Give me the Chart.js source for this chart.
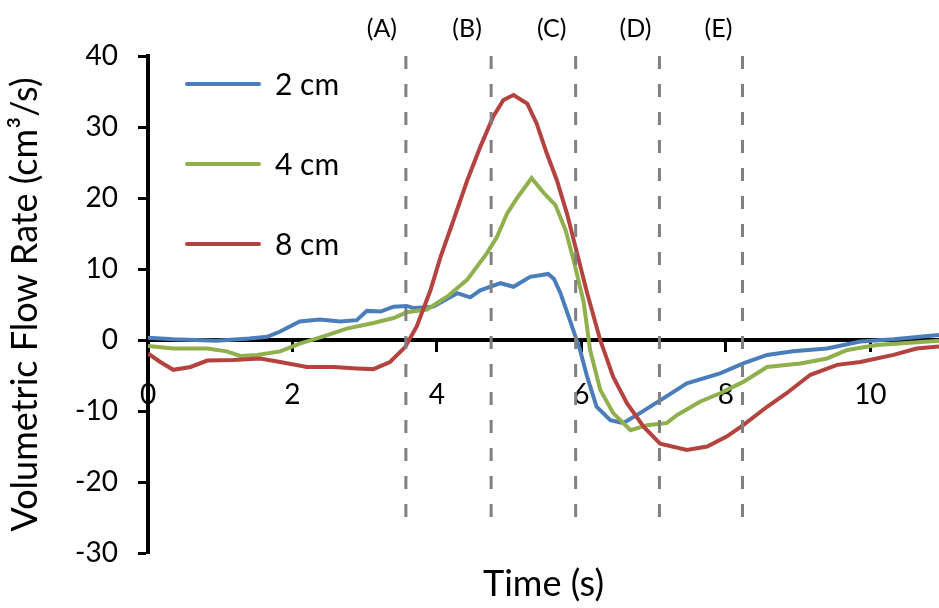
<!DOCTYPE html>
<html>
<head>
<meta charset="utf-8">
<script src="https://cdn.jsdelivr.net/npm/chart.js@4"></script>
<style>
    html, body { margin: 0; padding: 0; background: #fff; }
    #wrap { width: 939px; height: 608px; }
</style>
</head>
<body>
<div id="wrap"><canvas id="flowChart"></canvas></div>
<script>
// Flow rate traces, one per depth (time in s, flow in cm3/s)
const times2 = [0, 0.35, 0.95, 1.4, 1.65, 1.83, 2.1, 2.38, 2.66, 2.89, 3.03, 3.22, 3.4, 3.58, 3.68, 3.95, 4.28, 4.46, 4.6, 4.88, 5.06, 5.29, 5.54, 5.62, 5.71, 5.84, 5.98, 6.08, 6.21, 6.4, 6.58, 6.81, 7.09, 7.46, 7.92, 8.24, 8.57, 8.93, 9.4, 9.86, 10.32, 10.95];
const flow2 = [0.3, 0.1, -0.1, 0.2, 0.45, 1.2, 2.6, 2.9, 2.6, 2.8, 4.1, 4.0, 4.7, 4.8, 4.5, 4.7, 6.6, 6.0, 7.0, 8.0, 7.5, 8.9, 9.3, 8.6, 6.6, 2.8, -1.4, -5.2, -9.4, -11.3, -11.7, -10.3, -8.5, -6.1, -4.7, -3.3, -2.1, -1.6, -1.2, -0.2, 0.1, 0.7];

const times4 = [0, 0.35, 0.82, 1.09, 1.28, 1.51, 1.83, 2.1, 2.43, 2.75, 3.12, 3.4, 3.58, 3.86, 4.14, 4.42, 4.69, 4.83, 4.97, 5.11, 5.31, 5.48, 5.64, 5.78, 5.89, 6.03, 6.12, 6.26, 6.44, 6.68, 6.91, 7.18, 7.32, 7.64, 7.92, 8.24, 8.57, 9.03, 9.4, 9.68, 10.09, 10.55, 10.95];
const flow4 = [-0.85, -1.2, -1.2, -1.6, -2.25, -2.1, -1.6, -0.5, 0.5, 1.6, 2.4, 3.1, 3.9, 4.3, 6.1, 8.5, 12.2, 14.5, 17.8, 20.0, 22.8, 20.7, 19.0, 15.5, 11.3, 5.4, -1.4, -7.0, -10.3, -12.7, -12.0, -11.7, -10.6, -8.7, -7.5, -5.9, -3.8, -3.3, -2.6, -1.4, -0.7, -0.4, -0.1];

const times8 = [0, 0.17, 0.35, 0.59, 0.82, 1.18, 1.55, 1.83, 2.2, 2.57, 2.89, 3.12, 3.35, 3.56, 3.72, 3.91, 4.05, 4.23, 4.42, 4.6, 4.78, 4.92, 5.06, 5.25, 5.38, 5.52, 5.66, 5.8, 5.94, 6.08, 6.26, 6.44, 6.63, 6.86, 7.09, 7.46, 7.74, 8.01, 8.24, 8.57, 8.84, 9.17, 9.54, 9.86, 10.32, 10.64, 10.95];
const flow8 = [-1.9, -3.1, -4.2, -3.8, -2.9, -2.8, -2.6, -3.1, -3.8, -3.8, -4.0, -4.1, -3.1, -1.0, 1.9, 7.0, 11.7, 16.9, 22.5, 27.2, 31.5, 33.8, 34.5, 33.3, 30.5, 26.3, 22.5, 17.8, 12.2, 6.6, 0, -5.2, -8.9, -12.2, -14.6, -15.5, -15.0, -13.6, -12.0, -9.4, -7.5, -4.9, -3.5, -3.1, -2.1, -1.2, -0.9];

const seriesLabels = ['2 cm', '4 cm', '8 cm'];
const seriesColors = ['#4A7EBB', '#8FB04C', '#B4423F'];

// Phase boundaries (dashed verticals)
const phaseTimes = [3.57, 4.75, 5.92, 7.08, 8.23];
const phaseLabels = ['(A)', '(B)', '(C)', '(D)', '(E)'];
const phaseSpan = [40, -25];

const timeTicks = [0, 2, 4, 6, 8, 10];
const flowTicks = [-30, -20, -10, 0, 10, 20, 30, 40];

const FONT = 'Lato';

function toPoints(xs, ys) {
    return xs.map((t, i) => ({ x: t, y: ys[i] }));
}

const traces = [[times2, flow2], [times4, flow4], [times8, flow8]].map(([xs, ys], i) => ({
    label: seriesLabels[i],
    data: toPoints(xs, ys),
    borderColor: seriesColors[i],
    borderWidth: 4,
    pointRadius: 0,
    tension: 0,
    order: 3 - i
}));

const phaseLines = phaseTimes.map((t, i) => ({
    label: phaseLabels[i],
    phase: true,
    data: phaseSpan.map(v => ({ x: t, y: v })),
    borderColor: '#808080',
    borderWidth: 3,
    borderDash: [13, 15],
    pointRadius: 0,
    order: 0
}));

// Legend, phase letters and the time axis title
const annotations = {
    id: 'annotations',
    afterDatasetsDraw(chart) {
        const { ctx, chartArea, scales: { x } } = chart;
        ctx.save();
        ctx.fillStyle = '#000';
        ctx.textAlign = 'center';
        ctx.textBaseline = 'alphabetic';

        ctx.font = `25px ${FONT}`;
        phaseTimes.forEach((t, i) => {
            ctx.fillText(phaseLabels[i], x.getPixelForValue(t) - 24, 37);
        });

        ctx.textAlign = 'left';
        ctx.font = `30px ${FONT}`;
        chart.data.datasets.filter(ds => !ds.phase).forEach((ds, i) => {
            const y = 84 + i * 80;
            ctx.strokeStyle = ds.borderColor;
            ctx.lineWidth = 4;
            ctx.lineCap = 'round';
            ctx.beginPath();
            ctx.moveTo(187, y);
            ctx.lineTo(259, y);
            ctx.stroke();
            ctx.fillText(ds.label, 275, y + 11);
        });

        ctx.textAlign = 'center';
        ctx.font = `36px ${FONT}`;
        ctx.fillText('Time (s)', (chartArea.left + chartArea.right) / 2, 596);
        ctx.restore();
    }
};

const ctx = document.getElementById('flowChart').getContext('2d');
new Chart(ctx, {
    type: 'line',
    data: { datasets: [...traces, ...phaseLines] },
    options: {
        responsive: true,
        maintainAspectRatio: false,
        animation: false,
        devicePixelRatio: 1,
        layout: { padding: { top: 56, left: 0, right: 0, bottom: 55 } },
        plugins: {
            legend: { display: false },
            tooltip: { enabled: false }
        },
        scales: {
            x: {
                type: 'linear',
                position: { y: 0 },
                min: 0,
                max: 10.95,
                afterBuildTicks: s => { s.ticks = timeTicks.map(v => ({ value: v })); },
                border: { color: '#000', width: 4 },
                grid: { drawOnChartArea: false, color: '#000', tickLength: 10, tickWidth: 3 },
                ticks: { color: '#000', font: { family: FONT, size: 28 }, padding: 28, maxRotation: 0, autoSkip: false }
            },
            y: {
                min: -30,
                max: 40,
                afterBuildTicks: s => { s.ticks = flowTicks.map(v => ({ value: v })); },
                afterFit: s => { s.width = 148; },
                border: { color: '#000', width: 4 },
                grid: { drawOnChartArea: false, color: '#000', tickLength: 10, tickWidth: 3 },
                ticks: { color: '#000', font: { family: FONT, size: 28 }, padding: 20 },
                title: {
                    display: true,
                    text: 'Volumetric Flow Rate (cm³/s)',
                    color: '#000',
                    font: { family: FONT, size: 36 },
                    padding: { top: 4, bottom: 0 }
                }
            }
        }
    },
    plugins: [annotations]
});
</script>
</body>
</html>
